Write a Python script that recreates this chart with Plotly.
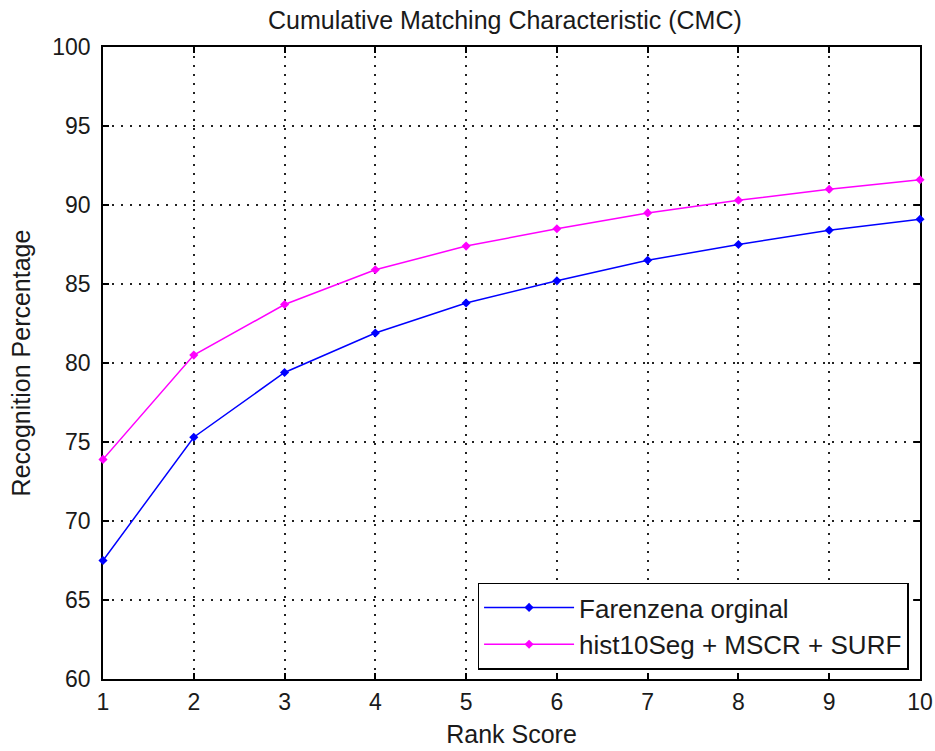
import plotly.graph_objects as go

rank = [1, 2, 3, 4, 5, 6, 7, 8, 9, 10]
farenzena = [67.5, 75.3, 79.4, 81.9, 83.8, 85.2, 86.5, 87.5, 88.4, 89.1]
hist10seg = [73.9, 80.5, 83.7, 85.9, 87.4, 88.5, 89.5, 90.3, 91.0, 91.6]
y_ticks = [60, 65, 70, 75, 80, 85, 90, 95, 100]
x_ticks = rank

FONT = "Liberation Sans"
TXT = "#1a1a1a"

fig = go.Figure()
fig.add_trace(go.Scatter(x=rank, y=farenzena, mode="lines+markers", name="Farenzena orginal",
                         line=dict(color="#0000FF", width=1.5), cliponaxis=False,
                         marker=dict(symbol="diamond", size=7, color="#0000FF")))
fig.add_trace(go.Scatter(x=rank, y=hist10seg, mode="lines+markers", name="hist10Seg + MSCR + SURF",
                         line=dict(color="#FF00FF", width=1.5), cliponaxis=False,
                         marker=dict(symbol="diamond", size=7, color="#FF00FF")))

axis_common = dict(showline=True, linecolor="black", linewidth=1.5, mirror="ticks",
                   ticks="inside", ticklen=6, tickcolor="black", tickwidth=1.5,
                   showgrid=True, gridcolor="#222", griddash="2px,7px", gridwidth=1.5,
                   zeroline=False, automargin=False, layer="below traces",
                   tickfont=dict(family=FONT, size=23, color=TXT))

fig.update_xaxes(range=[1, 10], tickvals=x_ticks, ticklabelstandoff=2,
                 title=dict(text="Rank Score", standoff=11,
                            font=dict(family=FONT, size=25, color=TXT)), **axis_common)
fig.update_yaxes(range=[60, 100], tickvals=y_ticks, ticklabelstandoff=6,
                 title=dict(text="Recognition Percentage", standoff=15,
                            font=dict(family=FONT, size=25, color=TXT)), **axis_common)

fig.update_layout(
    width=935, height=751,
    margin=dict(l=103, r=15, t=47, b=72),
    paper_bgcolor="white", plot_bgcolor="white",
    title=dict(text="Cumulative Matching Characteristic (CMC)", x=0.54, xanchor="center",
               y=0.973, yanchor="middle", font=dict(family=FONT, size=25, color=TXT)),
    legend=dict(x=0.986, y=0.015, xanchor="right", yanchor="bottom",
                bgcolor="white", bordercolor="black", borderwidth=1.5,
                font=dict(family=FONT, size=26, color=TXT), itemwidth=90,
                tracegroupgap=0),
    showlegend=True,
)

fig.write_html("out.html")
